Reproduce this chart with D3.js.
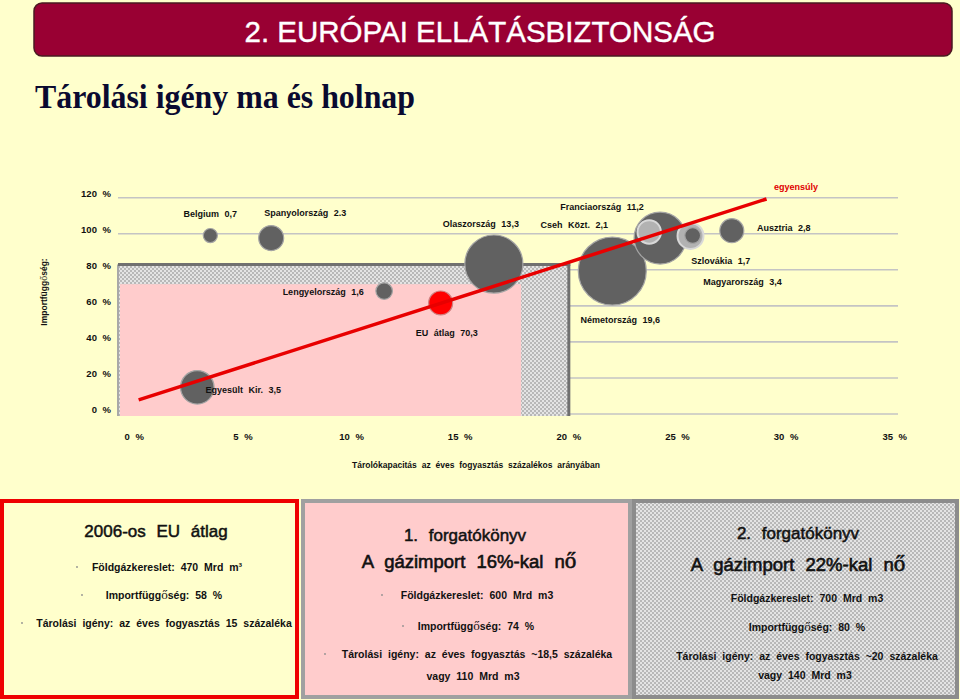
<!DOCTYPE html>
<html>
<head>
<meta charset="utf-8">
<script src="https://cdn.jsdelivr.net/npm/d3@7"></script>
<style>
  html, body { margin: 0; padding: 0; background: #ffffcc; }
  svg { display: block; }
</style>
</head>
<body>
<svg id="chart" width="960" height="700"></svg>
<script>
// ---------------- DATA ----------------
const countries = ["Belgium", "Spanyolország", "Lengyelország", "EU átlag", "Olaszország", "Németország",
                   "Franciaország", "Cseh Közt.", "Magyarország", "Szlovákia", "Ausztria", "Egyesült Kir."];
const valueLabels = ["0,7", "2.3", "1,6", "70,3", "13,3", "19,6", "11,2", "2,1", "3,4", "1,7", "2,8", "3,5"];
// storage capacity, % of annual consumption (x)
const storagePct = [3.5, 6.3, 11.5, 14.1, 16.55, 22.0, 24.2, 23.7, 25.6, 25.7, 27.5, 2.9];
// import dependency, % (y)
const importPct = [99, 97.6, 68.2, 61.6, 83.2, 79.3, 97.6, 101, 98.8, 99, 101.7, 14.8];
// bubble size (area units)
const bubbleSize = [0.8, 2.5, 1.1, 2.3, 13.5, 18.5, 10.8, 2.2, 2.7, 1.0, 2.3, 4.5];
const bubbleKind = ["dark", "dark", "dark", "eu", "dark", "dark", "dark", "light", "light", "dark", "dark", "dark"];

// balance line ("egyensúly")
const balanceX = [0.2, 29.1];
const balanceY = [7.8, 119.3];

// scenario areas: [storage %, import %]
const scenario1Area = [17.8, 72];
const scenario2Area = [20.0, 83];

const xTicks = [0, 5, 10, 15, 20, 25, 30, 35];
const yTicks = [0, 20, 40, 60, 80, 100, 120];
const xTickLabels = ["0 %", "5 %", "10 %", "15 %", "20 %", "25 %", "30 %", "35 %"];
const yTickLabels = ["0 %", "20 %", "40 %", "60 %", "80 %", "100 %", "120 %"];

const bannerTitle = "2. EURÓPAI ELLÁTÁSBIZTONSÁG";
const subTitle = "Tárolási igény ma és holnap";
const xTitle = "Tárolókapacitás az éves fogyasztás százalékos arányában";
const yTitle = "Importfüggőség:";
const balanceLabel = "egyensúly";

const box1Lines = ["2006-os EU átlag", "Földgázkereslet: 470 Mrd m³", "Importfüggőség: 58 %",
                   "Tárolási igény: az éves fogyasztás 15 százaléka"];
const box2Lines = ["1. forgatókönyv", "A gázimport 16%-kal nő", "Földgázkereslet: 600 Mrd m3",
                   "Importfüggőség: 74 %", "Tárolási igény: az éves fogyasztás ~18,5 százaléka", "vagy 110 Mrd m3"];
const box3Lines = ["2. forgatókönyv", "A gázimport 22%-kal nő", "Földgázkereslet: 700 Mrd m3",
                   "Importfüggőség: 80 %", "Tárolási igény: az éves fogyasztás ~20 százaléka", "vagy 140 Mrd m3"];

// ---------------- LAYOUT (style only) ----------------
const labelOffsets = [[0, -22], [34, -25], [-61, 1], [6, 30], [-13, -40], [8, 49],
                      [-58, -31], [-75, -7], [52, 46], [28, 25], [52, -3], [46, 3]];

const svg = d3.select("#chart");
const SANS = "'Liberation Sans', Arial, sans-serif";
const SERIF = "'Liberation Serif', 'Times New Roman', serif";

svg.append("rect").attr("width", 960).attr("height", 700).attr("fill", "#ffffcc");

// pattern
const defs = svg.append("defs");
const pat = defs.append("pattern").attr("id", "hatch").attr("patternUnits", "userSpaceOnUse")
  .attr("width", 4).attr("height", 4);
pat.append("rect").attr("width", 4).attr("height", 4).attr("fill", "#e4e4e4");
pat.append("rect").attr("x", 0).attr("y", 0).attr("width", 2).attr("height", 2).attr("fill", "#b8b8b8");
pat.append("rect").attr("x", 2).attr("y", 2).attr("width", 2).attr("height", 2).attr("fill", "#b8b8b8");

// helper for text with serif "ő"
function richText(sel, str, serifScale) {
  const parts = str.split("ő");
  parts.forEach((p, i) => {
    if (p.length) sel.append("tspan").text(p);
    if (i < parts.length - 1) {
      sel.append("tspan").attr("font-family", SERIF).attr("font-weight", "normal")
        .attr("font-size", serifScale).text("ő");
    }
  });
}

// ---------------- BANNER ----------------
svg.append("rect").attr("x", 34).attr("y", 3).attr("width", 918).attr("height", 53)
  .attr("rx", 8).attr("fill", "#990033").attr("stroke", "#4a1a20").attr("stroke-width", 1.5);
svg.append("text").attr("x", 480).attr("y", 42).attr("text-anchor", "middle")
  .attr("font-family", SANS).attr("font-size", 29.5).attr("fill", "#ffffff")
  .attr("stroke", "#ffffff").attr("stroke-width", 0.4).text(bannerTitle);

svg.append("text").attr("x", 35).attr("y", 108)
  .attr("font-family", SERIF).attr("font-size", 33).attr("font-weight", "bold")
  .attr("fill", "#0a0a30").attr("textLength", 380).attr("lengthAdjust", "spacingAndGlyphs").text(subTitle);

// ---------------- CHART ----------------
const x = d3.scaleLinear().domain([-0.75, 35.15]).range([118, 898]);
const y = d3.scaleLinear().domain([0, 120]).range([414, 197.7]);
const r = d3.scaleSqrt().domain([0, 1]).range([0, 7.9]);

const g = svg.append("g");

// gridlines
g.selectAll("line.grid").data(yTicks).join("line")
  .attr("x1", x.range()[0]).attr("x2", x.range()[1])
  .attr("y1", d => y(d)).attr("y2", d => y(d))
  .attr("stroke", "#c4c4c4").attr("stroke-width", 1.6);

// scenario 2 (hatched) area
const s2x = x(scenario2Area[0]), s2y = y(scenario2Area[1]);
g.append("rect").attr("x", x.range()[0]).attr("y", s2y)
  .attr("width", s2x - x.range()[0]).attr("height", y(0) + 2 - s2y).attr("fill", "url(#hatch)");
g.append("line").attr("x1", x.range()[0]).attr("x2", x.range()[0]).attr("y1", s2y).attr("y2", y(0) + 2)
  .attr("stroke", "#a8a8a8").attr("stroke-width", 2);
g.append("line").attr("x1", x.range()[0]).attr("x2", s2x + 1.5).attr("y1", s2y).attr("y2", s2y)
  .attr("stroke", "#707070").attr("stroke-width", 3);
g.append("line").attr("x1", s2x).attr("x2", s2x).attr("y1", s2y).attr("y2", y(0) + 2)
  .attr("stroke", "#707070").attr("stroke-width", 3);

// scenario 1 (pink) area
const s1x = x(scenario1Area[0]), s1y = y(scenario1Area[1]);
g.append("rect").attr("x", x.range()[0] + 2).attr("y", s1y)
  .attr("width", s1x - x.range()[0] - 2).attr("height", y(0) + 2 - s1y).attr("fill", "#ffcccc");

// axis tick labels
g.selectAll("text.ytick").data(yTicks).join("text")
  .attr("x", 111).attr("y", d => y(d) - 4).attr("dy", "0.35em").attr("text-anchor", "end")
  .attr("font-family", SANS).attr("font-size", 9.5).attr("font-weight", "bold")
  .attr("word-spacing", 3).attr("fill", "#111")
  .text((d, i) => yTickLabels[i]);
g.selectAll("text.xtick").data(xTicks).join("text")
  .attr("x", d => x(d)).attr("y", 437).attr("dy", "0.35em").attr("text-anchor", "middle")
  .attr("font-family", SANS).attr("font-size", 9.5).attr("font-weight", "bold")
  .attr("word-spacing", 3).attr("fill", "#111")
  .text((d, i) => xTickLabels[i]);

// axis titles
g.append("text").attr("x", 476).attr("y", 465).attr("dy", "0.35em").attr("text-anchor", "middle")
  .attr("font-family", SANS).attr("font-size", 8.5).attr("font-weight", "bold")
  .attr("word-spacing", 2.5).attr("fill", "#111").text(xTitle);
const yt = g.append("text").attr("transform", "translate(44,292) rotate(-90)")
  .attr("text-anchor", "middle").attr("dy", "0.35em")
  .attr("font-family", SANS).attr("font-size", 8.5).attr("font-weight", "bold").attr("fill", "#111");
richText(yt, yTitle, 10);

// bubbles
const data = countries.map((c, i) => ({
  name: c, label: valueLabels[i], x: storagePct[i], y: importPct[i],
  size: bubbleSize[i], kind: bubbleKind[i], off: labelOffsets[i]
}));
const fills = { dark: "#616161", light: "#b2b2b2", eu: "#ff0000" };
const strokes = { dark: "#a4a4a4", light: "#d8d8d8", eu: "#d08080" };
g.selectAll("circle.bubble").data(data.slice().sort((a, b) => b.size - a.size)).join("circle")
  .attr("cx", d => x(d.x)).attr("cy", d => y(d.y)).attr("r", d => r(d.size))
  .attr("fill", d => fills[d.kind]).attr("stroke", d => strokes[d.kind])
  .attr("stroke-width", d => d.kind === "light" ? 2 : 1.2);

// balance line
const line = d3.line().x(d => x(d[0])).y(d => y(d[1]));
g.append("path").datum(balanceX.map((v, i) => [v, balanceY[i]])).attr("d", line)
  .attr("stroke", "#e80000").attr("stroke-width", 3.5).attr("fill", "none");
g.append("text").attr("x", 796).attr("y", 187).attr("dy", "0.35em").attr("text-anchor", "middle")
  .attr("font-family", SANS).attr("font-size", 9).attr("font-weight", "bold")
  .attr("fill", "#e00000").text(balanceLabel);

// bubble labels
g.selectAll("text.blabel").data(data).join("text")
  .attr("x", d => x(d.x) + d.off[0]).attr("y", d => y(d.y) + d.off[1]).attr("dy", "0.35em")
  .attr("text-anchor", "middle")
  .attr("font-family", SANS).attr("font-size", 9).attr("font-weight", "bold")
  .attr("word-spacing", 3).attr("fill", "#111")
  .text(d => d.name + " " + d.label);

// ---------------- BOXES ----------------
function box(x0, w, fill, stroke, sw) {
  svg.append("rect").attr("x", x0).attr("y", 501).attr("width", w).attr("height", 196)
    .attr("fill", fill).attr("stroke", stroke).attr("stroke-width", sw);
}
box(2, 295, "#ffffcc", "#ee0000", 4);
box(303, 327, "#ffcccc", "#a0a0a0", 4);
box(634, 323, "url(#hatch)", "#8c8c8c", 4);

function boxText(cx, cy, str, size, weight, ws, thick) {
  const t = svg.append("text").attr("x", cx).attr("y", cy).attr("dy", "0.35em")
    .attr("text-anchor", "middle").attr("font-family", SANS).attr("font-size", size)
    .attr("font-weight", weight).attr("word-spacing", ws).attr("fill", "#111");
  if (thick) t.attr("stroke", "#111").attr("stroke-width", thick);
  richText(t, str, size * 1.25);
}
function bullet(bx, by) {
  svg.append("circle").attr("cx", bx).attr("cy", by).attr("r", 0.9).attr("fill", "#909090");
}

// box 1
boxText(156, 531, box1Lines[0], 17, "normal", 6, 0.5);
boxText(167, 567, box1Lines[1], 10.5, "bold", 3);
boxText(164, 595, box1Lines[2], 10.5, "bold", 3);
boxText(164, 623, box1Lines[3], 10.5, "bold", 3);
bullet(77, 567); bullet(82, 595); bullet(22, 623);

// box 2
boxText(465, 535, box2Lines[0], 17, "normal", 6, 0.5);
boxText(469, 562, box2Lines[1], 18.5, "normal", 6, 0.6);
boxText(477, 595, box2Lines[2], 10.5, "bold", 3);
boxText(476, 626, box2Lines[3], 10.5, "bold", 3);
boxText(477, 654, box2Lines[4], 10.5, "bold", 3);
boxText(473, 676, box2Lines[5], 10.5, "bold", 3);
bullet(382, 595); bullet(403, 626); bullet(325, 654);

// box 3
boxText(798, 533, box3Lines[0], 17, "normal", 6, 0.5);
boxText(798, 565, box3Lines[1], 18.5, "normal", 6, 0.6);
boxText(807, 598, box3Lines[2], 10.5, "bold", 3);
boxText(807, 627, box3Lines[3], 10.5, "bold", 3);
boxText(807, 656, box3Lines[4], 10.5, "bold", 3);
boxText(805, 675, box3Lines[5], 10.5, "bold", 3);
</script>
</body>
</html>
